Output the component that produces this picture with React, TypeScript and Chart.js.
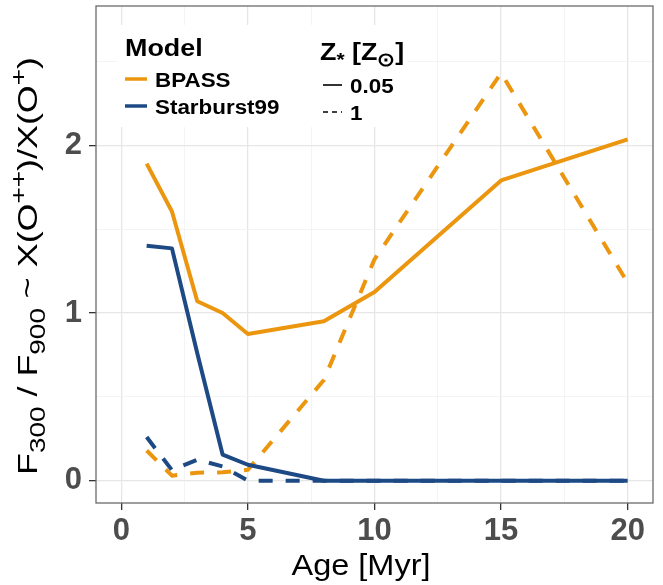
import React, { useEffect, useRef } from "react";
import { Chart, registerables } from "chart.js";

Chart.register(...registerables);

// Stellar population age (Myr)
const ages = [1, 2, 3, 4, 5, 8, 10, 15, 20];

// F300/F900 ratio per model and metallicity
const bpassLowZ = [1.89, 1.605, 1.07, 1.0, 0.875, 0.95, 1.125, 1.79, 2.035];
const bpassSolarZ = [0.18, 0.03, 0.048, 0.05, 0.065, 0.6, 1.32, 2.43, 1.18];
const sb99LowZ = [1.4, 1.385, 0.76, 0.156, 0.095, 0, 0, 0, 0];
const sb99SolarZ = [0.26, 0.063, 0.125, 0.085, 0, 0, 0, 0, 0];

const xTicks = [0, 2.5, 5, 7.5, 10, 12.5, 15, 17.5, 20];
const yTicks = [0, 0.5, 1, 1.5, 2, 2.5];

const modelNames = ["BPASS", "Starburst99"];
const metalLabels = ["0.05", "1"];

const ORANGE = "#EB960E";
const BLUE = "#1D4A84";
const FONT = "'Liberation Sans', Arial, sans-serif";
const STRETCH = 1.12;

type Seg = { t: string; s?: "sub" | "sup" };

// Width of a run of text with sub/superscripts (unstretched)
function richWidth(ctx: CanvasRenderingContext2D, segs: Seg[], size: number, weight: string) {
  let w = 0;
  for (const seg of segs) {
    ctx.font = `${weight} ${seg.s ? size * 0.78 : size}px ${FONT}`;
    w += ctx.measureText(seg.t).width;
  }
  return w;
}

// Draws the run at the current origin, baseline y = 0
function drawRich(ctx: CanvasRenderingContext2D, segs: Seg[], x: number, size: number, weight: string) {
  let cx = x;
  for (const seg of segs) {
    ctx.font = `${weight} ${seg.s ? size * 0.78 : size}px ${FONT}`;
    const dy = seg.s === "sub" ? size * 0.27 : seg.s === "sup" ? -size * 0.4 : 0;
    ctx.fillText(seg.t, cx, dy);
    cx += ctx.measureText(seg.t).width;
  }
}

function textAt(ctx: CanvasRenderingContext2D, segs: Seg[], x: number, y: number, size: number, weight: string, sx = STRETCH) {
  ctx.save();
  ctx.translate(x, y);
  ctx.scale(sx, 1);
  drawRich(ctx, segs, 0, size, weight);
  ctx.restore();
}

const yTitle: Seg[] = [
  { t: "F" }, { t: "300", s: "sub" }, { t: " / " }, { t: "F" }, { t: "900", s: "sub" },
  { t: " ~ X(O" }, { t: "++", s: "sup" }, { t: ")/X(O" }, { t: "+", s: "sup" }, { t: ")" },
];

const decorPlugin = {
  id: "decor",
  beforeDatasetsDraw(chart: any) {
    const { ctx } = chart;
    // legend background hides the grid behind it
    ctx.save();
    ctx.fillStyle = "#ffffff";
    ctx.fillRect(117, 25, 290, 102);
    ctx.restore();
  },
  afterDraw(chart: any) {
    const { ctx, chartArea } = chart;
    ctx.save();
    // panel border
    ctx.strokeStyle = "#6b6b6b";
    ctx.lineWidth = 1.3;
    ctx.strokeRect(chartArea.left, chartArea.top, chartArea.right - chartArea.left, chartArea.bottom - chartArea.top);

    ctx.fillStyle = "#000000";
    ctx.textBaseline = "alphabetic";
    ctx.textAlign = "left";

    // x-axis title
    const xt: Seg[] = [{ t: "Age [Myr]" }];
    const xw = richWidth(ctx, xt, 29, "400") * STRETCH;
    textAt(ctx, xt, 361 - xw / 2, 575, 29, "400");

    // y-axis title, rotated
    const ySize = 28;
    const ySx = 1.28;
    const yw = richWidth(ctx, yTitle, ySize, "400") * ySx;
    ctx.save();
    ctx.translate(37, 266);
    ctx.rotate(-Math.PI / 2);
    ctx.scale(ySx, 1);
    drawRich(ctx, yTitle, -yw / 2 / ySx, ySize, "400");
    ctx.restore();

    // legend: model colours
    textAt(ctx, [{ t: "Model" }], 125, 56, 24, "700");
    const modelColors = [ORANGE, BLUE];
    modelNames.forEach((name, i) => {
      const ky = 79 + i * 27;
      ctx.strokeStyle = modelColors[i];
      ctx.lineWidth = 3.5;
      ctx.setLineDash([]);
      ctx.beginPath();
      ctx.moveTo(125, ky);
      ctx.lineTo(147, ky);
      ctx.stroke();
      ctx.fillStyle = "#000";
      textAt(ctx, [{ t: name }], 155, ky + 7.5, 20, "700");
    });

    // legend: metallicity line types
    textAt(ctx, [{ t: "Z" }, { t: "*", s: "sub" }, { t: " [Z" }, { t: "\u2299", s: "sub" }, { t: "]" }], 320, 60, 24, "700");
    metalLabels.forEach((lab, i) => {
      const ky = 85 + i * 27;
      ctx.strokeStyle = "#000";
      ctx.lineWidth = 1.6;
      ctx.setLineDash(i === 0 ? [] : [5, 4]);
      ctx.beginPath();
      ctx.moveTo(323, ky);
      ctx.lineTo(342, ky);
      ctx.stroke();
      ctx.setLineDash([]);
      textAt(ctx, [{ t: lab }], 350, ky + 7.5, 20, "700");
    });
    ctx.restore();
  },
};

export default function App() {
  const ref = useRef<HTMLCanvasElement | null>(null);

  useEffect(() => {
    if (!ref.current) return;
    const isMajorX = (v: number) => v % 5 === 0;
    const isMajorY = (v: number) => v % 1 === 0;
    const line = (data: number[], color: string, dashed: boolean) => ({
      data: ages.map((a, i) => ({ x: a, y: data[i] })),
      borderColor: color,
      borderWidth: 4,
      borderDash: dashed ? [14, 13] : [],
      borderJoinStyle: "round" as const,
      borderCapStyle: "butt" as const,
      pointRadius: 0,
      fill: false,
      tension: 0,
    });
    const chart = new Chart(ref.current, {
      type: "line",
      data: {
        datasets: [
          line(sb99SolarZ, BLUE, true),
          line(sb99LowZ, BLUE, false),
          line(bpassSolarZ, ORANGE, true),
          line(bpassLowZ, ORANGE, false),
        ],
      },
      options: {
        animation: false,
        responsive: false,
        layout: { padding: { top: 6, right: 10, left: 0, bottom: 0 } },
        plugins: { legend: { display: false }, tooltip: { enabled: false } },
        scales: {
          x: {
            type: "linear",
            min: -1,
            max: 21,
            afterBuildTicks: (s: any) => { s.ticks = xTicks.map((v) => ({ value: v })); },
            afterFit: (s: any) => { s.height = 82; s.paddingLeft = 0; s.paddingRight = 0; },
            border: { display: false },
            grid: {
              color: (c: any) => (isMajorX(c.tick.value) ? "#e6e6e6" : "#f1f1f1"),
              lineWidth: (c: any) => (isMajorX(c.tick.value) ? 1.3 : 0.8),
              tickColor: (c: any) => (isMajorX(c.tick.value) ? "#333333" : "rgba(0,0,0,0)"),
              tickLength: 7,
            },
            ticks: {
              autoSkip: false,
              maxRotation: 0,
              padding: 3,
              color: "#4d4d4d",
              font: { family: FONT, size: 31, weight: "bold" },
              callback: (v: any) => (isMajorX(Number(v)) ? String(v) : ""),
            },
          },
          y: {
            type: "linear",
            min: -0.133,
            max: 2.83,
            afterBuildTicks: (s: any) => { s.ticks = yTicks.map((v) => ({ value: v })); },
            afterFit: (s: any) => { s.width = 96; s.paddingTop = 0; s.paddingBottom = 0; },
            border: { display: false },
            grid: {
              color: (c: any) => (isMajorY(c.tick.value) ? "#e6e6e6" : "#f1f1f1"),
              lineWidth: (c: any) => (isMajorY(c.tick.value) ? 1.3 : 0.8),
              tickColor: (c: any) => (isMajorY(c.tick.value) ? "#333333" : "rgba(0,0,0,0)"),
              tickLength: 7,
            },
            ticks: {
              autoSkip: false,
              padding: 7,
              color: "#4d4d4d",
              font: { family: FONT, size: 31, weight: "bold" },
              callback: (v: any) => (isMajorY(Number(v)) ? String(v) : ""),
            },
          },
        },
      },
      plugins: [decorPlugin],
    });
    return () => chart.destroy();
  }, []);

  return (
    <div style={{ position: "absolute", left: 0, top: 0, width: 663, height: 585, background: "#fff" }}>
      <canvas ref={ref} width={663} height={585} style={{ display: "block" }} />
    </div>
  );
}
